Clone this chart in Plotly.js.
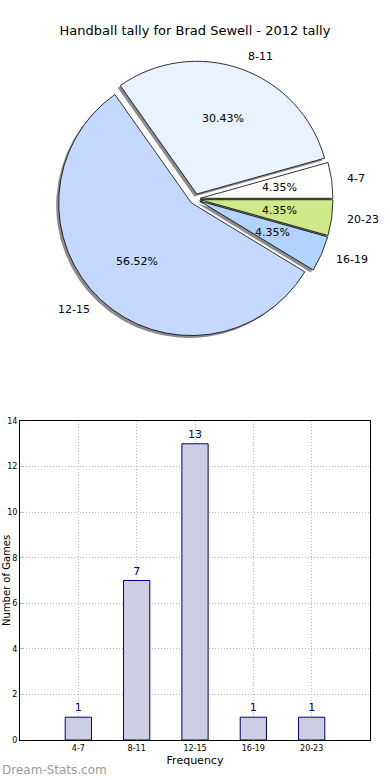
<!DOCTYPE html>
<html>
<head>
<meta charset="utf-8">
<script src="https://cdn.plot.ly/plotly-3.0.1.min.js"></script>
<style>html,body{margin:0;padding:0;background:#fff;}#chart{width:390px;height:780px;}</style>
</head>
<body>
<div id="chart"></div>
<script>
const categories = ['4-7', '8-11', '12-15', '16-19', '20-23'];
const counts = [1, 7, 13, 1, 1];
const pieColors = ['#ffffff', '#eaf1ff', '#c5d8ff', '#b3d3ff', '#cfe98a'];
const titleText = 'Handball tally for Brad Sewell - 2012 tally';
const xTitle = 'Frequency';
const yTitle = 'Number of Games';
const yTicks = [0, 2, 4, 6, 8, 10, 12, 14];

const W = 390, H = 780;
const M = {l: 20, r: 20, t: 0, b: 40};
const pw = W - M.l - M.r, ph = H - M.t - M.b;
const pie = {cx: 195, cy: 199, R: 138, pull: 0.04};
const r = pie.R / (1 + pie.pull);
const font = 'DejaVu Sans, sans-serif';

function px2x(p) { return (p - M.l) / pw; }
function py2y(p) { return (M.t + ph - p) / ph; }

const dom = {
  x: [px2x(pie.cx - pie.R), px2x(pie.cx + pie.R)],
  y: [py2y(pie.cy + pie.R), py2y(pie.cy - pie.R)]
};
const sh = 2.5;
const shadowDom = {
  x: [dom.x[0] - sh / pw, dom.x[1] - sh / pw],
  y: [dom.y[0] - sh / ph, dom.y[1] - sh / ph]
};

const total = counts.reduce((a, b) => a + b, 0);
// Plotly places the first slice clockwise of `rotation` when counterclockwise,
// so shift by the first slice so it starts at 3 o'clock.
const rotation = 90 - counts[0] / total * 360;

const annotations = [];
let cum = 0;
counts.forEach((v, i) => {
  const a0 = cum / total * 360, a1 = (cum + v) / total * 360;
  cum += v;
  const mid = (a0 + a1) / 2 * Math.PI / 180;
  const c = Math.cos(mid), s = Math.sin(mid);
  const dp = (pie.pull + 0.6) * r, dl = (pie.pull + 1.1) * r;
  annotations.push({
    xref: 'paper', yref: 'paper',
    x: px2x(pie.cx + dp * c), y: py2y(pie.cy - dp * s),
    text: (v / total * 100).toFixed(2) + '%', showarrow: false,
    xanchor: 'center', yanchor: 'middle',
    font: {family: font, size: 11, color: '#000'}
  });
  annotations.push({
    xref: 'paper', yref: 'paper',
    x: px2x(pie.cx + dl * c), y: py2y(pie.cy - dl * s),
    text: categories[i], showarrow: false,
    xanchor: c > 0 ? 'left' : 'right', yanchor: 'middle',
    font: {family: font, size: 11, color: '#000'}
  });
});
annotations.push({
  xref: 'paper', yref: 'paper', x: px2x(0), y: py2y(770),
  text: 'Dream-Stats.com', showarrow: false,
  xanchor: 'left', yanchor: 'middle',
  font: {family: font, size: 12, color: '#9a9a9a'}
});
// y-axis title, kept just inside the left edge
annotations.push({
  xref: 'paper', yref: 'paper', x: px2x(6), y: py2y(581),
  text: yTitle, showarrow: false, textangle: -90,
  xanchor: 'center', yanchor: 'middle',
  font: {family: font, size: 10, color: '#000'}
});

const traces = [
  {
    type: 'pie', values: counts, labels: categories, sort: false,
    direction: 'counterclockwise', rotation: rotation,
    pull: pie.pull, domain: shadowDom, textinfo: 'none', hoverinfo: 'skip',
    marker: {colors: counts.map(() => 'rgba(0,0,0,0.45)'), line: {width: 0}},
    showlegend: false
  },
  {
    type: 'pie', values: counts, labels: categories, sort: false,
    direction: 'counterclockwise', rotation: rotation,
    pull: pie.pull, domain: dom, textinfo: 'none',
    marker: {colors: pieColors, line: {color: '#000', width: 0.8}},
    showlegend: false
  },
  {
    type: 'bar', x: categories, y: counts, width: 0.45,
    xaxis: 'x', yaxis: 'y',
    marker: {color: '#cdcde4', line: {color: '#000080', width: 1}},
    text: counts.map(String), textposition: 'outside', cliponaxis: false,
    textfont: {family: font, size: 11, color: '#000080'},
    showlegend: false
  }
];

const layout = {
  width: W, height: H,
  margin: M,
  paper_bgcolor: '#fff', plot_bgcolor: '#fff',
  showlegend: false,
  font: {family: font, color: '#000'},
  title: {
    text: titleText, xref: 'container', x: 0.5, xanchor: 'center',
    yref: 'container', y: 1 - 30 / H, yanchor: 'middle',
    font: {family: font, size: 13, color: '#000'}
  },
  xaxis: {
    domain: [0, 1], anchor: 'y', type: 'category', range: [-1, 5],
    showline: true, linecolor: '#000', linewidth: 1, mirror: true,
    showgrid: true, gridcolor: '#bdbdbd', griddash: '1px,2px', gridwidth: 1,
    ticks: 'inside', ticklen: 3, tickcolor: '#bdbdbd',
    tickfont: {family: font, size: 8, color: '#000'},
    title: {text: xTitle, standoff: 4, font: {family: font, size: 11, color: '#000'}},
    zeroline: false, fixedrange: true
  },
  yaxis: {
    domain: [0, 319 / ph], anchor: 'x', range: [0, 14], tickvals: yTicks,
    showline: true, linecolor: '#000', linewidth: 1, mirror: true,
    showgrid: true, gridcolor: '#bdbdbd', griddash: '1px,2px', gridwidth: 1,
    ticks: 'inside', ticklen: 3, tickcolor: '#bdbdbd',
    tickfont: {family: font, size: 8, color: '#000'},
    zeroline: false, fixedrange: true
  },
  annotations: annotations
};

Plotly.newPlot('chart', traces, layout, {displayModeBar: false, staticPlot: true});
</script>
</body>
</html>
